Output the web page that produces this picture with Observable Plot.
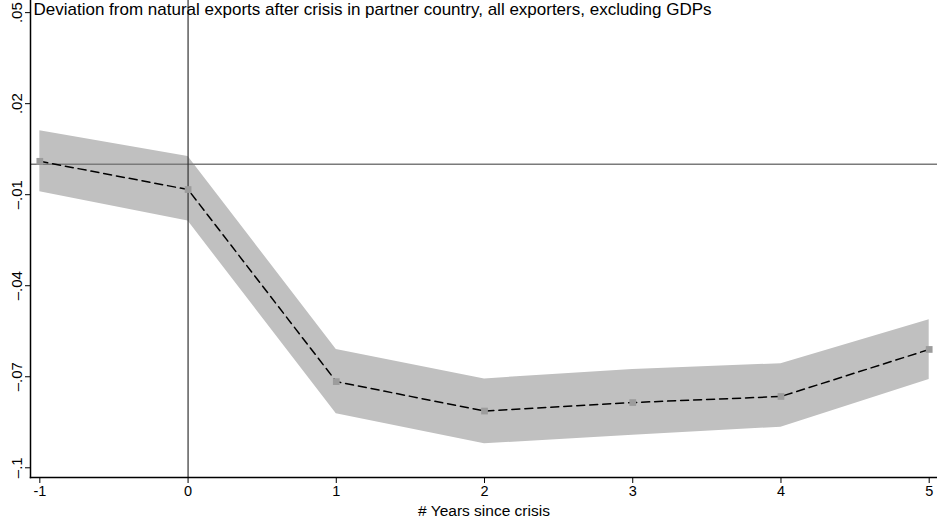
<!DOCTYPE html>
<html>
<head>
<meta charset="utf-8">
<script src="https://cdn.jsdelivr.net/npm/d3@7"></script>
<script src="https://cdn.jsdelivr.net/npm/@observablehq/plot@0.6"></script>
<style>
  body { margin: 0; background: #fff; }
  #chart svg { display: block; }
</style>
</head>
<body>
<div id="chart"></div>
<script>
// Event-study estimates: years relative to the crisis, point estimate and confidence band
const years    = [-1, 0, 1, 2, 3, 4, 5];
const estimate = [0.0010, -0.0083, -0.0716, -0.0813, -0.0785, -0.0765, -0.0610];
const lower    = [-0.0090, -0.0187, -0.0822, -0.0921, -0.0893, -0.0866, -0.0709];
const upper    = [0.0111, 0.0026, -0.0610, -0.0707, -0.0676, -0.0657, -0.0512];

const yTicks = [0.05, 0.02, -0.01, -0.04, -0.07, -0.1];
const yTickLabels = [".05", ".02", "–.01", "–.04", "–.07", "–.1"];
const xTicks = [-1, 0, 1, 2, 3, 4, 5];
const xTickLabels = ["-1", "0", "1", "2", "3", "4", "5"];

const titleText = "Deviation from natural exports after crisis in partner country, all exporters, excluding GDPs";
const xLabelText = "# Years since crisis";

const xDomain = [-1.063, 5.056];
const yDomain = [-0.1032, 0.054];

const rows = years.map((t, i) => ({t, est: estimate[i], lo: lower[i], hi: upper[i]}));
const yFmt = new Map(yTicks.map((v, i) => [v, yTickLabels[i]]));
const xFmt = new Map(xTicks.map((v, i) => [v, xTickLabels[i]]));

const font = "'Liberation Sans', Arial, sans-serif";

const chart = Plot.plot({
  width: 937,
  height: 521,
  marginLeft: 30,
  marginRight: 0,
  marginTop: 0,
  marginBottom: 44,
  style: {fontFamily: font, fontSize: "14px", background: "#fff", color: "#000", overflow: "visible"},
  x: {domain: xDomain},
  y: {domain: yDomain},
  marks: [
    // confidence band
    Plot.areaY(rows, {x: "t", y1: "lo", y2: "hi", fill: "#c0c0c0", fillOpacity: 1}),
    // reference lines at zero and at the crisis year
    Plot.ruleY([0], {stroke: "#7a7a7a", strokeWidth: 1.5}),
    Plot.ruleX([0], {stroke: "#333", strokeWidth: 1.2}),
    // point estimates
    Plot.lineY(rows, {x: "t", y: "est", stroke: "#000", strokeWidth: 1.5, strokeDasharray: "8,5"}),
    Plot.dot(rows, {x: "t", y: "est", symbol: "square", r: 3.8, fill: "#9c9c9c", stroke: "none"}),
    // axes
    Plot.frame({anchor: "left", stroke: "#000", strokeWidth: 1.5}),
    Plot.frame({anchor: "bottom", stroke: "#000", strokeWidth: 1.5}),
    Plot.axisY(yTicks, {
      tickFormat: d => yFmt.get(d),
      tickRotate: -90,
      tickSize: 5,
      tickPadding: 4,
      label: null,
      fontSize: 15,
      stroke: "#000"
    }),
    Plot.axisX(xTicks, {
      tickFormat: d => xFmt.get(d),
      tickSize: 6,
      tickPadding: 2,
      label: null,
      fontSize: 14.5,
      stroke: "#000"
    }),
    Plot.text([xLabelText], {frameAnchor: "bottom", dy: 38, fontSize: 15.5, fill: "#000"}),
    Plot.text([titleText], {frameAnchor: "top-left", dx: 3, dy: 2, fontSize: 17, textAnchor: "start", fill: "#000"})
  ]
});

document.getElementById("chart").append(chart);
</script>
</body>
</html>
